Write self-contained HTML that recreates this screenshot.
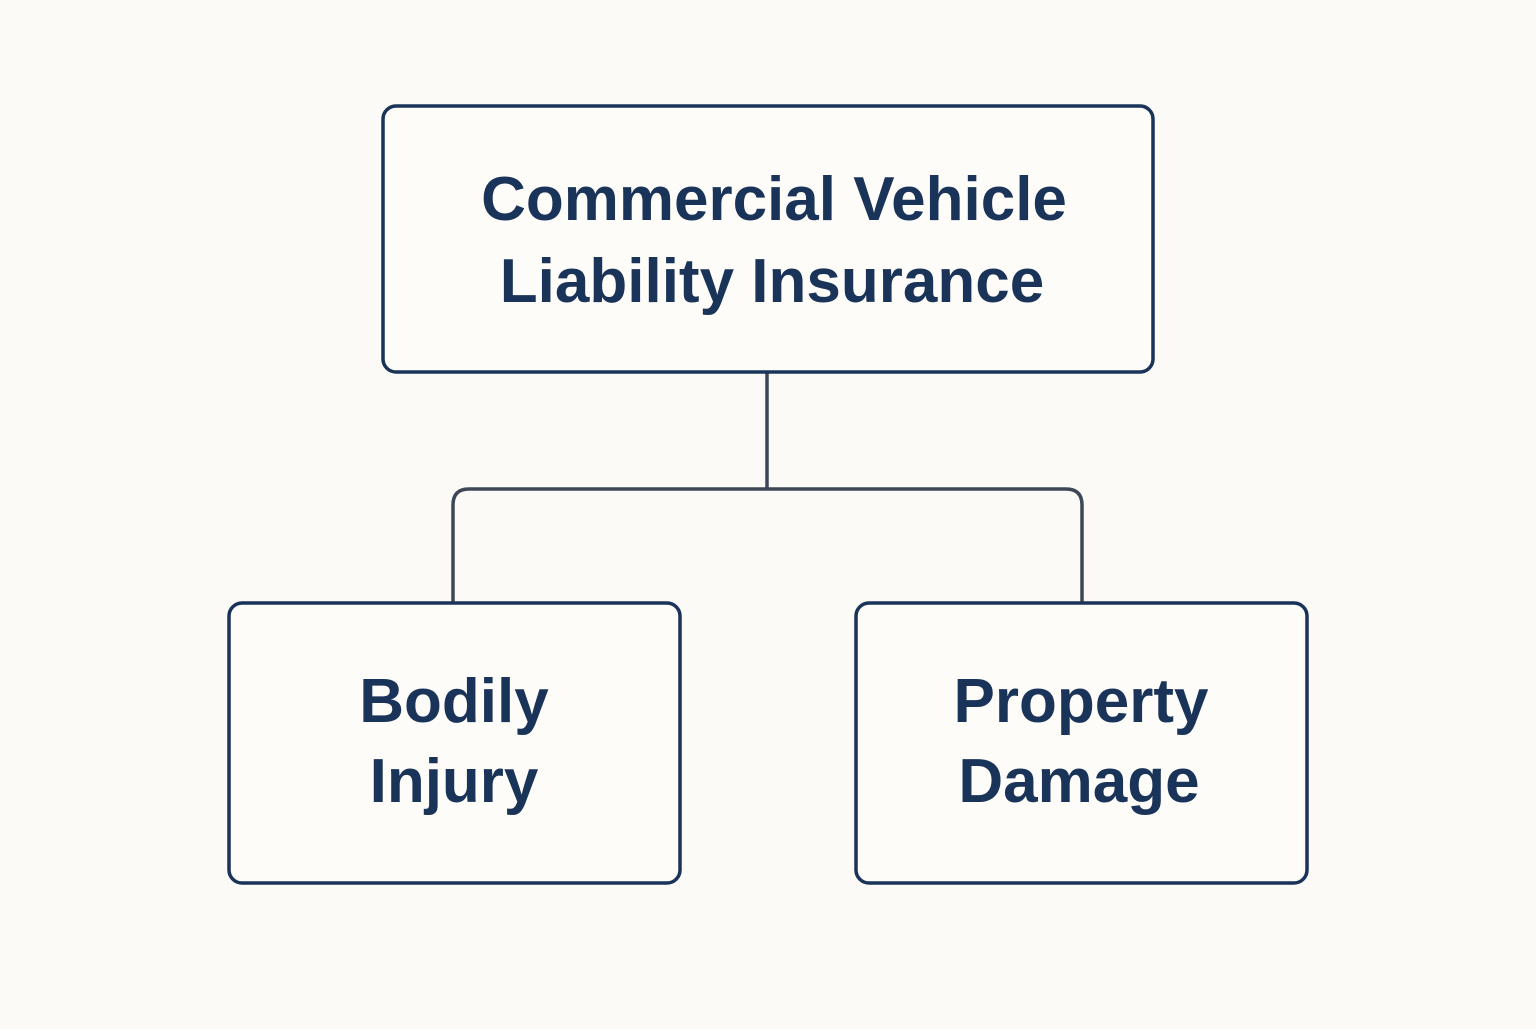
<!DOCTYPE html>
<html><head><meta charset="utf-8"><style>
html,body{margin:0;padding:0;background:#fbfaf6;}
body{width:1536px;height:1024px;overflow:hidden;}
</style></head><body>
<svg width="1536" height="1024" viewBox="0 0 1536 1024" xmlns="http://www.w3.org/2000/svg">
<rect width="1536" height="1024" fill="#fbfaf6"/>
<path d="M767 372 V489 M453 602 V505 Q453 489 469 489 H1066 Q1082 489 1082 505 V602" fill="none" stroke="#3e4757" stroke-width="3.5"/>
<rect x="383" y="106" width="770" height="266" rx="13" fill="#fdfcf9" stroke="#1a3358" stroke-width="3.5"/>
<rect x="229" y="603" width="451" height="280" rx="13" fill="#fdfcf9" stroke="#1a3358" stroke-width="3.5"/>
<rect x="856" y="603" width="451" height="280" rx="13" fill="#fdfcf9" stroke="#1a3358" stroke-width="3.5"/>
<g font-family="Liberation Sans, DejaVu Sans, sans-serif" font-size="62" fill="#1a3358" text-anchor="middle" font-weight="bold">
<text x="774" y="220">Commercial Vehicle</text>
<text x="772" y="302">Liability Insurance</text>
<text x="454" y="722">Bodily</text>
<text x="454" y="802">Injury</text>
<text x="1081" y="722">Property</text>
<text x="1079" y="802">Damage</text>
</g>
</svg>
</body></html>
